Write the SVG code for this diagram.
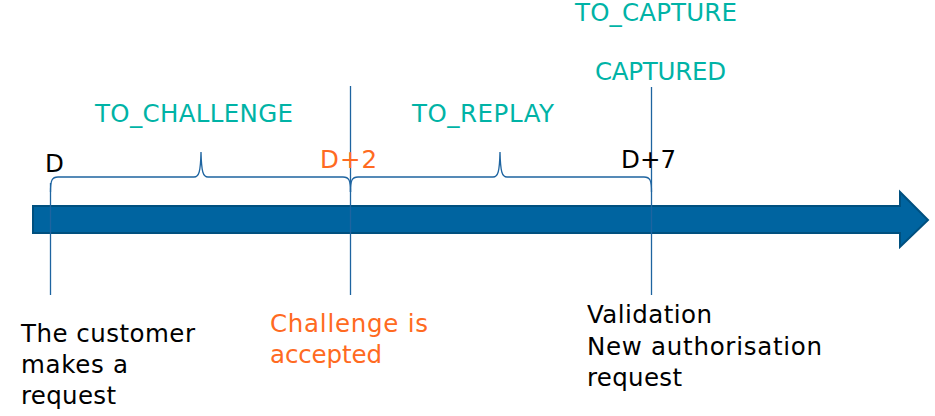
<svg xmlns="http://www.w3.org/2000/svg" width="935" height="416" viewBox="0 0 935 416">
<style>
text{font-family:"DejaVu Sans",Verdana,sans-serif;font-size:24.5px}
.k{fill:#000}
.o{fill:#FF6A21}
.t{fill:#00B3A6}
.ln{stroke:#1E64A0;stroke-width:1.3;fill:none}
</style>
<rect width="935" height="416" fill="#fff"/>
<g id="timeline">
<path d="M33,206 H900 V192 L928,220 L900,247 V233 H33 Z" fill="#0064A0" stroke="#00507F" stroke-width="2"/>
</g>
<g id="connectors">
<line class="ln" x1="50.5" y1="183" x2="50.5" y2="295"/>
<line class="ln" x1="350.5" y1="86" x2="350.5" y2="295"/>
<line class="ln" x1="651.5" y1="87" x2="651.5" y2="295"/>
<path class="ln" d="M50.5,192 C50.5,180 52,177 58,177 H194 C199,177 200.5,172 201,152 C201.5,172 203,177 208,177 H343 C349,177 350.5,180 350.5,192"/>
<path class="ln" d="M350.5,192 C350.5,180 352,177 358,177 H493 C498,177 499.5,172 500,152 C500.5,172 502,177 507,177 H644 C650,177 651.5,180 651.5,192"/>
</g>
<g id="labels-top">
<text class="t" x="95" y="122" textLength="198" lengthAdjust="spacing">TO_CHALLENGE</text>
<text class="t" x="412" y="122" textLength="142" lengthAdjust="spacing">TO_REPLAY</text>
<text class="t" x="575" y="21" textLength="162" lengthAdjust="spacing">TO_CAPTURE</text>
<text class="t" x="595" y="80" textLength="131" lengthAdjust="spacing">CAPTURED</text>
</g>
<g id="day-D"><text class="k" x="45" y="172">D</text></g>
<g id="day-D2"><text class="o" x="320" y="168" textLength="57" lengthAdjust="spacing">D+2</text></g>
<g id="day-D7"><text class="k" x="621" y="168" textLength="55" lengthAdjust="spacing">D+7</text></g>
<g id="node-request">
<text class="k" x="21" y="342" textLength="174" lengthAdjust="spacing">The customer</text>
<text class="k" x="21" y="373" textLength="107" lengthAdjust="spacing">makes a</text>
<text class="k" x="21" y="404" textLength="95" lengthAdjust="spacing">request</text>
</g>
<g id="node-challenge">
<text class="o" x="270" y="332" textLength="158" lengthAdjust="spacing">Challenge is</text>
<text class="o" x="270" y="363" textLength="112" lengthAdjust="spacing">accepted</text>
</g>
<g id="node-validation">
<text class="k" x="587" y="323" textLength="125" lengthAdjust="spacing">Validation</text>
<text class="k" x="587" y="355" textLength="235" lengthAdjust="spacing">New authorisation</text>
<text class="k" x="587" y="386" textLength="95" lengthAdjust="spacing">request</text>
</g>
</svg>
